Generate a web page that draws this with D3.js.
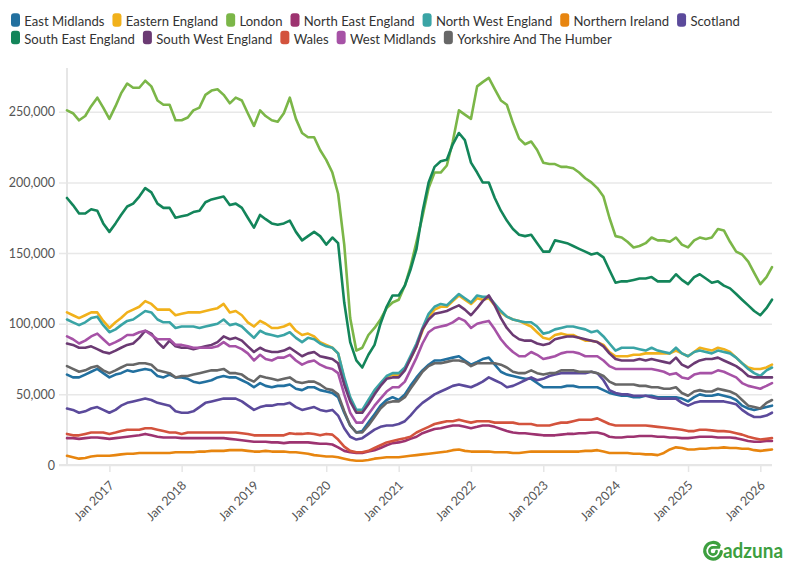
<!DOCTYPE html>
<html><head><meta charset="utf-8">
<script src="https://cdn.jsdelivr.net/npm/d3@7"></script>
<style>
html,body{margin:0;padding:0;background:#fff;}
svg{display:block;font-family:"Lato","Noto Sans",sans-serif;}
</style></head><body>
<svg id="chart" width="794" height="575"></svg>
<script>
// Monthly job-ad counts (thousands), Jun 2016 .. Mar 2026
const firstMonth = new Date(2016, 5, 1);
const lastMonth = new Date(2026, 2, 1);
const regions = ["East Midlands","Eastern England","London","North East England","North West England","Northern Ireland","Scotland","South East England","South West England","Wales","West Midlands","Yorkshire And The Humber"];
const regionColors = ["#22709f","#f1b11b","#7bb648","#9d3370","#3aa4a5","#e7850f","#5b4a9b","#13855a","#6b3a73","#d3533d","#a652a6","#676767"];

const eastMidlands = [64,62,62,64,66,68,65,62,64,65,67,66,67,68,67,63,62,64,62,62,61,59,58,59,60,
62,63,62,62,60,58,55,58,56,55,56,56,57,54,53,55,55,53,52,51,48,
37,28,23,24,30,36,42,46,48,46,50,56,62,67,71,74,74,75,76,77,74,71,73,75,76,
71,66,64,63,62,61,61,58,55,55,55,55,56,56,55,55,55,55,53,51,50,49,49,48,48,
49,49,48,48,48,48,47,45,48,50,49,49,50,49,48,46,42,40,39,40,41,42];
const easternEngland = [108,106,104,106,108,108,102,97,101,104,108,110,112,116,114,110,110,110,106,107,108,108,108,109,110,
111,114,108,109,106,101,98,102,100,97,97,98,100,95,92,93,91,87,85,83,79,
61,47,38,38,45,52,57,62,64,64,68,75,84,95,105,110,112,112,116,120,117,114,118,117,118,
113,108,105,103,102,100,98,94,90,89,92,93,92,92,90,88,88,87,85,80,77,77,77,78,78,
79,79,79,79,79,81,79,77,80,83,82,81,83,82,80,76,72,69,68,68,69,71];
const london = [251,249,244,247,254,260,253,245,254,263,270,267,267,272,268,258,255,255,244,244,246,251,253,262,265,
266,262,256,260,258,249,240,251,247,244,243,249,260,245,235,232,232,223,216,207,192,
156,104,81,83,92,97,103,111,115,117,127,140,158,176,196,207,207,212,229,251,248,245,268,271,274,
266,258,255,242,231,227,229,223,214,213,213,211,211,210,207,203,200,196,190,175,162,161,158,154,155,
157,161,159,159,158,161,156,154,159,161,160,161,167,166,158,151,149,144,136,128,133,140];
const northEast = [19,19,18.5,19,19.5,19.5,19,18.5,19,19.5,20,20.5,21,22,21,20,19.5,19.5,19.5,19,19,19,19,19,19,
19,19,18.5,18,17.5,17,16.5,16.5,16.5,16,16,15.5,16,16,16,16,15.5,15,15,14.5,12.5,
10,9,8.5,8.5,9.5,10.5,12,14,15.5,16,17,18.5,20,22.5,24,25.5,26,27,28,28,27,26,27,28,28,
27,25.5,24,23,22.5,22.5,22,21.5,21,21,21,21.5,22,22,22.5,22.5,23,23,22,20,19.5,19.5,20,20,20.5,
20.5,20.5,20,20,19.5,19.5,19,19,19.5,20,20,20,19.5,19.5,19.5,19,18,17,16.5,16.5,17,17];
const northWest = [103,101,99,101,104,105,99,94,96,99,102,103,106,109,108,103,101,101,97,98,98,98,97,98,99,
100,103,99,100,98,94,90,95,93,92,91,92,94,90,87,90,89,86,84,83,79,
62,48,39,39,46,53,58,63,65,65,69,77,86,97,107,112,114,113,117,121,118,115,120,119,119,
114,109,105,103,102,101,101,98,93,94,96,97,98,98,97,96,94,95,91,86,81,83,83,83,82,
81,83,81,80,79,83,79,77,80,81,80,79,81,80,79,76,72,68,65,63,67,69];
const northernIreland = [6.5,5.5,4.5,5,6,6.5,6.5,6.5,7,7.5,8,8,8.5,8.5,8.5,8.5,8.5,8.5,9,9,9,9,9.5,9.5,10,
10,10,10.5,10.5,10.5,10,9.5,9.5,10,9.5,9.5,9.5,9,9,8.5,8,7,6.5,6,6,5.5,
4.5,3.5,3,3,3.5,4.5,5,5.5,5.5,5.5,6,6.5,7,7.5,8,8.5,9,9.5,10.5,11,10,9.5,9.5,9.5,9.5,
9,9,9,8.5,8.5,9,9.5,9.5,9.5,9.5,9.5,9.5,9.5,9.5,9.5,10,10,10.5,9.5,8.5,8.5,8.5,8.5,8,8,
7.5,7.5,7,8.5,11,12.5,12,11,11,11.5,11.5,12,12,12.5,12,12,11.5,11.5,10.5,10,10.5,11];
const scotland = [40,39,37,38,40,41,39,37,39,42,44,45,46,47,46,44,43,42,38,37,37,38,41,44,45,
46,47,47,47,45,42,39,41,42,42,43,43,44,41,39,40,41,39,38,39,35,
26,20,18,19,22,25,27,28,28,29,31,35,40,44,47,50,52,54,56,57,56,55,57,59,62,
60,58,55,56,58,60,62,60,61,63,64,65,65,65,65,65,66,65,60,53,51,50,50,49,49,
49,48,47,47,47,47,44,42,44,45,45,45,45,45,44,43,39,36,34,34,35,37];
const southEast = [189,184,178,178,181,180,171,165,171,177,183,185,190,196,193,185,182,182,175,176,177,179,180,186,188,
189,190,184,185,182,175,168,177,174,171,170,171,173,165,159,162,165,162,156,161,157,
115,87,74,69,78,85,100,112,120,120,127,138,153,179,200,211,215,216,227,235,230,214,207,200,200,
189,180,173,167,163,162,163,157,151,151,159,158,157,155,153,151,149,150,147,138,129,130,130,131,132,
132,133,130,130,130,135,131,128,133,135,132,129,130,127,125,121,117,113,109,106,111,117];
const southWest = [86,85,83,83,84,82,80,79,81,83,85,86,90,95,93,87,83,88,84,83,83,82,83,84,85,
87,91,89,90,88,84,80,83,81,80,80,81,83,80,77,79,80,77,76,75,72,
57,45,37,37,43,50,56,61,62,62,67,75,84,96,103,107,108,109,111,113,110,106,111,116,120,
113,104,97,92,89,88,88,86,85,86,89,90,91,91,90,89,88,87,84,79,75,74,74,74,75,
74,75,74,73,72,76,71,69,72,74,75,75,76,74,72,70,67,63,62,62,62,62];
const wales = [22,21,21,22,23,23,23,22,23,24,25,25,25,26,26,25,24,23,23,22,23,23,23,23,23,
23,23,23,23,22.5,22,21,21,21,21,21,21,22.5,22,22,22.5,22,21,22,21.5,18,
13,10,9,9,10,12,14,16,17,18,19,20,23,25,27,29,30,31,31,32,31,30,31,31,31,
30,30,30,30,29,29,29,28,28,28,29,30,30,31,32,32,32,33,31,29,28,28,28,28,28,
28,27.5,27,26.5,26,25.5,25,24,24,25,25,24.5,24,24,23.5,22.5,21.5,20,19,18,18.5,19];
const westMidlands = [91,89,86,88,91,93,89,85,87,89,92,92,94,95,92,89,89,89,85,85,84,83,83,83,83,
84,87,84,84,82,79,74,78,75,74,76,76,78,74,71,73,74,71,69,68,65,
50,37,30,30,36,42,47,52,55,55,59,67,76,86,94,97,98,99,101,104,102,97,100,101,102,
96,89,84,80,77,77,80,78,75,76,77,79,80,80,79,77,77,77,74,70,68,68,68,68,68,
68,68,67,66,64,65,62,61,64,65,65,65,67,66,64,62,58,56,55,54,56,58];
const yorkshire = [70,68,66,67,69,70,67,65,67,69,71,71,72,72,71,67,66,65,62,63,63,64,65,66,67,
67,68,65,65,64,61,59,63,62,61,60,61,62,59,58,59,59,57,54,53,50,
38,28,23,23,28,34,40,44,45,45,48,54,60,66,70,72,72,73,74,74,73,70,72,72,72,
72,71,69,66,65,65,67,65,64,65,65,67,67,67,66,66,66,65,63,59,57,57,57,57,56,
56,55,55,54,54,55,51,49,52,53,52,52,54,53,52,50,46,42,41,40,44,46];

const seriesValues = [eastMidlands,easternEngland,london,northEast,northWest,northernIreland,scotland,southEast,southWest,wales,westMidlands,yorkshire];
const yTickValues = [0,50000,100000,150000,200000,250000];
const xTickYears = [2017,2018,2019,2020,2021,2022,2023,2024,2025,2026];
const legendRows = [[0,1,2,3,4,5,6],[7,8,9,10,11]];

const svg = d3.select("#chart");
const months = d3.timeMonth.range(firstMonth, d3.timeMonth.offset(lastMonth,1));
const x = d3.scaleTime().domain([firstMonth,lastMonth]).range([67,772]);
const y = d3.scaleLinear().domain([0,281000]).range([465,68]);

// grid + y axis
const yAxis = d3.axisLeft(y).tickValues(yTickValues).tickSize(-705-8).tickPadding(4)
  .tickFormat(d3.format(","));
const gy = svg.append("g").attr("transform","translate(772,0)").call(yAxis);
gy.select(".domain").remove();
gy.selectAll(".tick line").attr("stroke","#e8e8e8").attr("x1",0).attr("x2",-713).attr("stroke-width",1.5);
gy.selectAll(".tick text").remove();
yTickValues.forEach(v=>{
  svg.append("text").attr("x",55).attr("y",y(v)+4.5).attr("text-anchor","end")
    .attr("font-size",12.5).attr("fill","#555").text(d3.format(",")(v));
});
// y axis line
svg.append("line").attr("x1",67).attr("x2",67).attr("y1",68).attr("y2",465)
  .attr("stroke","#e6e6e6").attr("stroke-width",2);

// x axis
const xTicks = xTickYears.map(yr=>new Date(yr,0,1));
const xAxis = d3.axisBottom(x).tickValues(xTicks).tickSize(7).tickFormat(d3.timeFormat("Jan %Y"));
const gx = svg.append("g").attr("transform","translate(0,465)").call(xAxis);
gx.select(".domain").attr("stroke","#e6e6e6").attr("stroke-width",2).attr("d","M59,0H772");
gx.selectAll(".tick line").attr("stroke","#e6e6e6").attr("stroke-width",1.5);
gx.selectAll(".tick text").attr("font-size",12.5).attr("fill","#555")
  .attr("text-anchor","end").attr("dy",null).attr("y",0)
  .attr("transform","translate(5,21) rotate(-45)");
svg.selectAll(".tick text").attr("font-family","Lato, sans-serif");

// lines
const line = d3.line().x(d=>x(d.date)).y(d=>y(d.value*1000)).curve(d3.curveLinear);
const gl = svg.append("g");
seriesValues.forEach((vals,k)=>{
  const data = months.map((m,i)=>({date:m,value:vals[i]})).filter(d=>d.value!=null);
  gl.append("path").datum(data).attr("d",line).attr("fill","none")
    .attr("stroke",regionColors[k]).attr("stroke-width",2.6)
    .attr("stroke-linejoin","round").attr("stroke-linecap","round");
});

// legend
const legendBaselines = [26,43.5];
legendRows.forEach((row,r)=>{
  let cx = 11;
  row.forEach(k=>{
    const g = svg.append("g");
    g.append("rect").attr("x",cx).attr("y",legendBaselines[r]-12.7).attr("width",9).attr("height",13.4)
      .attr("rx",3).attr("fill",regionColors[k]);
    const t = g.append("text").attr("x",cx+13.3).attr("y",legendBaselines[r])
      .attr("font-size",13.1).attr("fill","#333").text(regions[k]);
    cx += 13.3 + t.node().getComputedTextLength() + 8;
  });
});

// logo
const logo = svg.append("g").attr("transform","translate(713,551)").attr("fill","none").attr("stroke","#3d9f3f");
logo.append("path").attr("d","M6.2,-5.8 A8.3,8.3 0 1 0 8.3,0.6")
  .attr("stroke-width",3.2).attr("stroke-linecap","round");
logo.append("path").attr("d","M3.6,0 A3.6,3.6 0 1 1 0,-3.6 L6,-3.6")
  .attr("stroke-width",2.6).attr("stroke-linecap","round");
svg.append("text").attr("x",723).attr("y",558).attr("font-size",21).attr("font-weight","bold")
  .attr("fill","#3d9f3f").attr("textLength",60).attr("lengthAdjust","spacingAndGlyphs").text("adzuna");
</script>
</body></html>
